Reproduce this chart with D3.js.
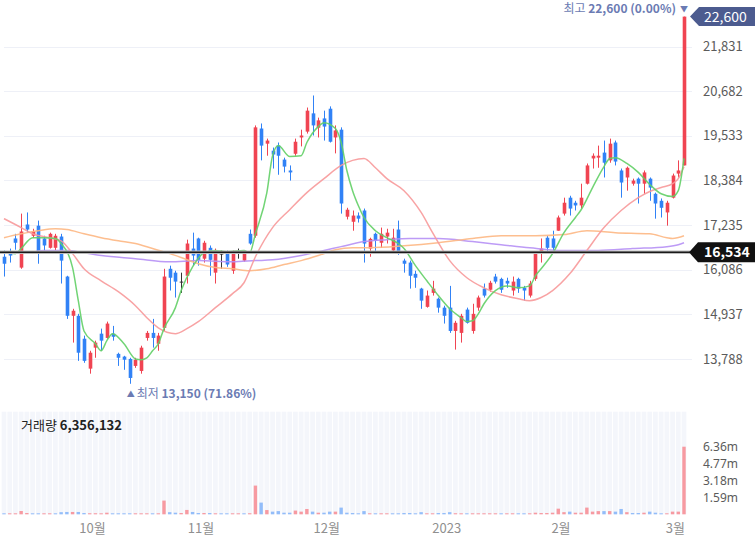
<!DOCTYPE html>
<html>
<head>
<meta charset="utf-8">
<script src="https://cdn.jsdelivr.net/npm/d3@7/dist/d3.min.js"></script>
<style>
  body { margin: 0; background: #fff; }
  svg text { font-family: "Noto Sans CJK KR", "Noto Sans", sans-serif; }
</style>
</head>
<body>
<div id="chart"></div>
<script>
// daily candles, mid Sep 2022 -> 3 Mar 2023 (index 0..119)
var open = [16420,16520,16890,16140,17250,16960,17220,16890,16650,16650,
  16940,15910,14900,14900,14310,13540,14080,14440,14330,14440,
  13920,13850,13790,13610,13480,14330,14460,14180,14590,16110,
  16010,15780,15930,16630,16890,16370,16650,16010,16500,16520,
  16060,16520,16320,17010,16960,19720,19330,19150,19280,18920,
  18640,19070,19490,19640,20110,19740,19980,20230,19490,19690,
  17450,17320,17480,17610,16630,17010,16780,16940,16580,17120,
  16320,16270,15980,15600,15130,15490,15340,15110,15110,14510,
  14460,15060,14510,15110,15600,15570,15910,15850,15800,15550,
  15850,15620,15420,15850,16520,16910,16890,17090,17530,17940,
  17810,17740,18300,18950,18970,19100,18900,19360,18640,18460,
  18300,18430,18300,18430,18040,17860,17560,17940,18560,18770];

var high = [16580,16630,17010,17530,17560,17140,17350,16960,17040,17010,
  17010,15930,15080,14950,14390,14000,14260,14570,14750,14640,
  13950,13870,13820,13820,14130,14510,14820,14460,16110,16190,
  16060,16010,16860,17040,16910,16830,16710,16630,16580,16580,
  16580,16630,16550,17120,19800,19850,19460,19230,19360,18970,
  18770,19460,19690,20260,20570,20000,20180,20290,19800,19750,
  17680,17610,17560,17660,16910,17040,17170,17140,17140,17350,
  16370,16320,16060,15620,15550,15800,15370,15160,15670,14770,
  14950,15110,15210,15420,15730,15800,15980,15880,15880,15910,
  15880,15670,15800,16520,16890,16960,17090,17480,17940,17990,
  17860,18300,18820,19080,19280,19410,19460,19410,18690,18740,
  18430,18460,18640,18460,18070,17920,17860,18560,18900,22600];

var low = [15910,16270,16600,16110,17040,16910,16240,16500,16630,16580,
  15730,14820,14210,13740,13690,13410,13820,14000,14310,14260,
  13610,13510,13150,13560,13410,14260,14080,14000,14510,15550,
  15370,15490,15730,16190,16190,16270,15930,15730,16110,16160,
  15980,16370,16290,16730,16910,18900,19020,18690,18530,18590,
  18380,19020,19260,19590,19540,19490,19410,19360,19080,17530,
  17380,17090,17300,16270,16420,16520,16650,16760,16520,16470,
  16010,15600,15620,15080,15110,15420,14980,14700,14460,14030,
  14210,14700,14440,15030,15370,15520,15730,15490,15620,15420,
  15490,15290,15370,15800,16270,16500,16500,17090,17480,17480,
  17610,17660,18280,18690,18710,18460,18840,18770,17940,18120,
  18250,17790,18040,17860,17400,17430,17220,17920,18460,18770];

var close = [16240,16450,16780,17070,17120,17070,16500,16710,17010,16960,
  16320,14900,15030,13950,13740,13950,14210,14260,14700,14360,
  13820,13770,13300,13770,14080,14460,14330,14390,15910,15880,
  15780,15780,16760,16450,16340,16780,16340,16580,16500,16220,
  16520,16520,16500,16760,19750,19280,19410,19050,19020,18740,
  18590,19380,19540,20180,19800,19930,19770,19380,19670,17790,
  17630,17480,17400,16760,16880,16830,17010,17040,16910,16500,
  16240,15930,15880,15290,15420,15600,15110,14900,14510,14720,
  14900,14720,14950,15370,15420,15750,15780,15570,15730,15780,
  15600,15550,15730,16500,16630,16650,16650,17430,17810,17660,
  17740,17940,18770,19020,19020,18840,19330,18870,18330,18710,
  18380,18300,18590,18200,17790,17680,17810,18510,18640,22600];

var volume = [80000,60000,70000,310000,120000,50000,50000,40000,50000,50000,
  200000,220000,220000,220000,120000,100000,100000,50000,150000,50000,
  80000,80000,60000,40000,50000,40000,40000,50000,1290000,200000,
  150000,120000,410000,220000,120000,120000,120000,50000,40000,40000,
  50000,40000,50000,100000,2700000,1100000,400000,250000,300000,150000,
  150000,350000,250000,500000,250000,150000,150000,250000,250000,630000,
  150000,120000,50000,300000,50000,50000,60000,50000,80000,60000,
  120000,120000,60000,200000,60000,50000,120000,120000,200000,100000,
  50000,40000,60000,50000,40000,60000,40000,50000,40000,60000,
  50000,40000,60000,150000,120000,120000,150000,530000,200000,250000,
  150000,150000,630000,250000,300000,300000,300000,250000,500000,200000,
  120000,120000,150000,250000,150000,80000,80000,250000,250000,6356132];

// moving averages: [day index, price]
var ma5 = [[0,16520],[2,16500],[3,16630],[5,16910],[7,16910],[9,16890],[10,16760],
  [12,16140],[13,15290],[14,14510],[16,14180],[17,14000],[18,14260],[19,14440],
  [21,14180],[23,13790],[24,13770],[25,13820],[26,14000],[27,14180],[28,14570],
  [30,15110],[31,15550],[33,16160],[35,16520],[37,16580],[39,16550],[42,16580],
  [43,16520],[44,17010],[46,18070],[47,19020],[48,19280],[50,19000],[52,19020],
  [53,19360],[55,19770],[56,19870],[58,19720],[59,19360],[60,18640],[61,18120],
  [62,17740],[63,17430],[65,17090],[67,16910],[69,16760],[70,16630],[72,16190],
  [74,15800],[76,15420],[78,15080],[80,14850],[81,14750],[82,14770],[83,14950],
  [84,15210],[86,15550],[88,15670],[90,15620],[92,15670],[93,15930],[94,16110],
  [96,16500],[98,17040],[100,17430],[101,17630],[103,18200],[105,18740],[106,18950],
  [107,18970],[109,18820],[111,18590],[113,18280],[115,18040],[117,17970],[118,18120],
  [119,18950]];
var ma20 = [[0,17400],[3,17170],[5,17010],[8,16910],[10,16830],[12,16500],[14,16110],
  [17,15800],[20,15520],[23,15160],[25,14850],[27,14590],[30,14440],[32,14570],
  [34,14750],[37,15110],[40,15470],[42,15750],[44,16420],[47,17170],[50,17630],
  [53,18070],[56,18430],[59,18770],[61,18900],[63,18950],[65,18710],[67,18430],
  [70,18120],[73,17560],[75,17040],[78,16320],[81,15880],[84,15620],[87,15440],
  [90,15340],[92,15290],[94,15370],[96,15550],[99,15980],[102,16580],[105,17170],
  [108,17610],[111,17940],[113,18100],[115,18200],[117,18300],[118,18430],[119,18740]];
var ma60 = [[0,16910],[3,17010],[6,17090],[9,17140],[11,17120],[14,17010],[17,16910],
  [20,16830],[23,16760],[26,16630],[29,16500],[31,16400],[34,16240],[37,16140],
  [40,16110],[43,16060],[46,16110],[49,16220],[52,16320],[55,16450],[58,16600],
  [61,16650],[64,16650],[70,16700],[76,16780],[82,16890],[87,16960],[93,16960],
  [98,16990],[102,17090],[107,17040],[113,17010],[116,16910],[117,16890],[119,16960]];
var ma120 = [[0,16520],[4,16520],[7,16580],[11,16580],[14,16520],[17,16450],[23,16370],
  [29,16290],[34,16320],[40,16290],[44,16320],[47,16340],[52,16450],[56,16580],
  [59,16680],[63,16810],[67,16860],[71,16890],[76,16890],[82,16810],[87,16730],
  [92,16650],[98,16580],[104,16580],[110,16630],[116,16680],[118,16730],[119,16780]];

var priceTicks = [13788, 14937, 16086, 17235, 18384, 19533, 20682, 21831];
var volTicks = [1590000, 3180000, 4770000, 6360000];
var monthIdx = [16, 35, 57, 78, 98, 118];
var monthLabels = ['10월', '11월', '12월', '2023', '2월', '3월'];
var basePrice = 16534;
var hiPrice = 22600, hiIdx = 119;
var loPrice = 13150, loIdx = 22;

var W = 755, H = 547;
var RED = '#f04452', BLUE = '#3182f6';

var svg = d3.select('#chart').append('svg')
    .attr('width', W).attr('height', H);

var x = d3.scaleLinear().domain([0, open.length - 1]).range([4, 684]);
var step = x(1) - x(0);
var y = d3.scaleLinear().domain([13788, 21831]).range([359, 46.5]);
var yv = d3.scaleLinear().domain([0, 6356132]).range([514.3, 446.7]);

var idx = d3.range(open.length);

// grid lines in price pane
svg.append('g').selectAll('line').data(priceTicks).enter().append('line')
    .attr('x1', 4).attr('x2', 692)
    .attr('y1', function(d) { return Math.round(y(d)) + 0.5; })
    .attr('y2', function(d) { return Math.round(y(d)) + 0.5; })
    .attr('stroke', '#eef0f7').attr('stroke-width', 1.2);

// price axis labels
var ax = svg.append('g').attr('transform', 'translate(697,0)')
    .call(d3.axisRight(y).tickValues(priceTicks).tickFormat(d3.format(',')).tickSize(0).tickPadding(6));
ax.select('.domain').remove();
ax.selectAll('text').attr('fill', '#5b5b5b').style('font-size', '13px');

// volume pane background stripes
svg.append('g').selectAll('rect').data(idx).enter().append('rect')
    .attr('x', function(i) { return x(i) - step / 2 + 0.5; })
    .attr('width', step - 1)
    .attr('y', 411.7).attr('height', 102.6)
    .attr('fill', '#f4f6fb');

// volume bars
svg.append('g').selectAll('rect').data(idx).enter().append('rect')
    .attr('x', function(i) { return x(i) - 1.7; })
    .attr('width', 3.4)
    .attr('y', function(i) { return Math.min(yv(volume[i]), 513.3); })
    .attr('height', function(i) { return Math.max(yv(0) - yv(volume[i]), 1); })
    .attr('fill', function(i) {
        var up = i == 0 ? close[i] >= open[i] : close[i] >= close[i - 1];
        return up ? '#f79aa1' : '#93bdf9';
    });

var vax = svg.append('g').attr('transform', 'translate(697,0)')
    .call(d3.axisRight(yv).tickValues(volTicks).tickFormat(function(d) { return (d / 1e6).toFixed(2) + 'm'; }).tickSize(0).tickPadding(6));
vax.select('.domain').remove();
vax.selectAll('text').attr('fill', '#5b5b5b')
    .style('font-family', '"Noto Sans", sans-serif').style('font-size', '12px');

// month labels
svg.append('g').selectAll('text').data(monthIdx).enter().append('text')
    .attr('x', function(d) { return x(d) - 3; })
    .attr('y', 533)
    .attr('text-anchor', 'middle')
    .attr('fill', '#8f8f8f').style('font-size', '13px')
    .text(function(d, i) { return monthLabels[i]; });

// candles
function candleColor(i) {
    if (close[i] > open[i]) return RED;
    if (close[i] < open[i]) return BLUE;
    return '#333';
}
var cg = svg.append('g');
cg.selectAll('line').data(idx).enter().append('line')
    .attr('x1', function(i) { return Math.round(x(i)) + 0.5; })
    .attr('x2', function(i) { return Math.round(x(i)) + 0.5; })
    .attr('y1', function(i) { return y(high[i]); })
    .attr('y2', function(i) { return y(low[i]); })
    .attr('stroke', candleColor).attr('stroke-width', 1);
cg.selectAll('rect').data(idx).enter().append('rect')
    .attr('x', function(i) { return Math.round(x(i)) + 0.5 - 1.8; })
    .attr('width', 3.6)
    .attr('y', function(i) { return y(Math.max(open[i], close[i])); })
    .attr('height', function(i) { return Math.max(Math.abs(y(open[i]) - y(close[i])), 1); })
    .attr('fill', candleColor);

// moving averages
var line = d3.line()
    .x(function(d) { return x(d[0]); })
    .y(function(d) { return y(d[1]); })
    .curve(d3.curveMonotoneX);
[[ma120, '#b690f5'], [ma60, '#fdb783'], [ma20, '#f7999a'], [ma5, '#62cf66']].forEach(function(m) {
    svg.append('path').datum(m[0])
        .attr('d', line)
        .attr('fill', 'none')
        .attr('stroke', m[1])
        .attr('stroke-width', 1.5)
        .attr('opacity', 0.9);
});

// base price line + label
var by = y(basePrice);
svg.append('line').attr('x1', 0).attr('x2', 690)
    .attr('y1', by).attr('y2', by)
    .attr('stroke', '#bbb').attr('stroke-width', 3.5);
svg.append('line').attr('x1', 0).attr('x2', 690)
    .attr('y1', by).attr('y2', by)
    .attr('stroke', '#1a1a1a').attr('stroke-width', 1.6);
svg.append('path')
    .attr('d', 'M689,' + by + 'L698,' + (by - 10) + 'L755,' + (by - 10) + 'L755,' + (by + 10) + 'L698,' + (by + 10) + 'Z')
    .attr('fill', '#111');
svg.append('text').attr('x', 704).attr('y', by + 5)
    .attr('fill', '#fff').style('font-size', '14px').style('font-weight', 'bold')
    .text(d3.format(',')(basePrice));

// high price label box
var hy = y(hiPrice);
svg.append('path')
    .attr('d', 'M690,' + hy + 'L699,' + (hy - 9.5) + 'L755,' + (hy - 9.5) + 'L755,' + (hy + 9.5) + 'L699,' + (hy + 9.5) + 'Z')
    .attr('fill', '#4c5b8f');
svg.append('text').attr('x', 704).attr('y', hy + 5)
    .attr('fill', '#fff').style('font-size', '14px')
    .text(d3.format(',')(hiPrice));

// high / low annotations
var hiT = svg.append('text').attr('x', x(hiIdx) - 8).attr('y', 13)
    .attr('text-anchor', 'end').attr('fill', '#6b7bb3').style('font-size', '12px');
hiT.append('tspan').text('최고 ');
hiT.append('tspan').style('font-weight', 'bold').text(d3.format(',')(hiPrice) + ' (0.00%)');
svg.append('text').attr('x', x(hiIdx)).attr('y', 12)
    .attr('text-anchor', 'middle').attr('fill', '#6b7bb3').style('font-size', '8px').text('▼');

svg.append('text').attr('x', x(loIdx) + 1).attr('y', 397)
    .attr('text-anchor', 'middle').attr('fill', '#6b7bb3').style('font-size', '8px').text('▲');
var loT = svg.append('text').attr('x', x(loIdx) + 7).attr('y', 398)
    .attr('fill', '#6b7bb3').style('font-size', '12px');
loT.append('tspan').text('최저 ');
loT.append('tspan').style('font-weight', 'bold').text(d3.format(',')(loPrice) + ' (71.86%)');

// volume title
var vt = svg.append('text').attr('x', 21).attr('y', 430)
    .attr('fill', '#222').style('font-size', '13px');
vt.append('tspan').text('거래량 ');
vt.append('tspan').style('font-weight', 'bold').text(d3.format(',')(volume[volume.length - 1]));
</script>
</body>
</html>
